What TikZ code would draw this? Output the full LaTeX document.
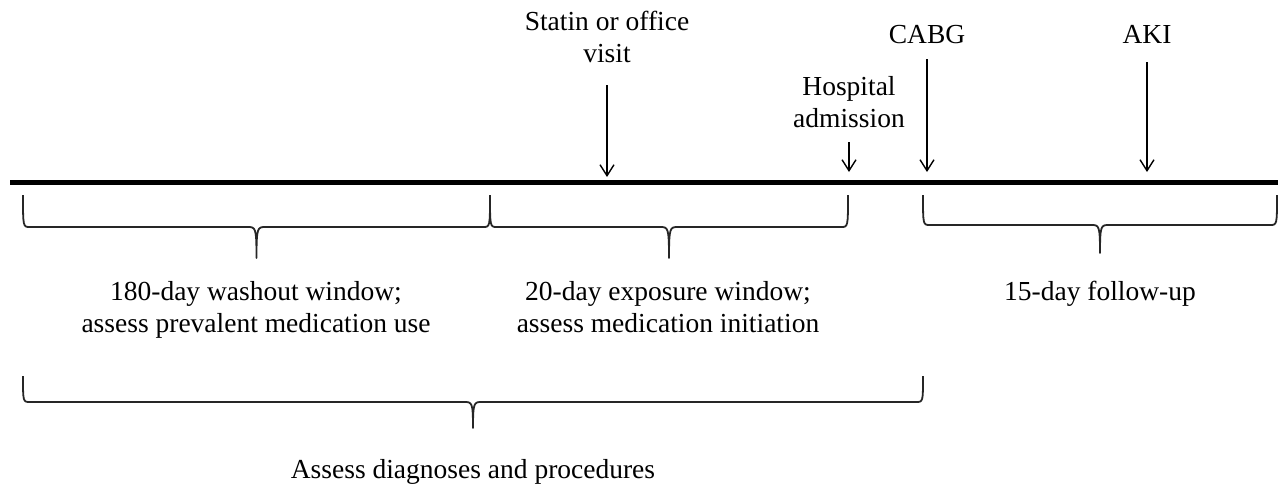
\documentclass[tikz,border=0pt]{standalone}
\usepackage{fontspec}
\setmainfont{Liberation Serif}
\usetikzlibrary{arrows.meta}
\begin{document}
\begin{tikzpicture}[x=1pt,y=-1pt,
  lbl/.style={inner sep=0pt,align=center,anchor=base,font=\fontsize{27.5}{31.5}\selectfont},
  evarrow/.style={line width=1.4pt,-{Straight Barb[length=11pt,width=14pt,line width=1.4pt]}},
  timeline/.style={line width=5pt},
  bracestyle/.style={line width=1.8pt,draw=black!85,line join=round}]
\useasboundingbox (0,0) rectangle (1287,491);
% timeline
\coordinate (tl0) at (10,182);
\coordinate (tl1) at (1278,182);
\draw[timeline] (tl0) -- (tl1);
% event labels (base = baseline of last line)
\node[lbl] (statin) at (607,62) {Statin or office\\visit};
\node[lbl] (hosp) at (849,127) {Hospital\\admission};
\node[lbl] (cabg) at (927,43) {CABG};
\node[lbl] (aki) at (1147,43) {AKI};
% arrow ends
\coordinate (sA) at (607,85);  \coordinate (sB) at (607,177);
\coordinate (hA) at (849,142); \coordinate (hB) at (849,172);
\coordinate (cA) at (927,59);  \coordinate (cB) at (927,172);
\coordinate (aA) at (1147,62); \coordinate (aB) at (1147,172);
\draw[evarrow] (sA) -- (sB);
\draw[evarrow] (hA) -- (hB);
\draw[evarrow] (cA) -- (cB);
\draw[evarrow] (aA) -- (aB);
% braces
\newcommand\tlbrace[5]{% x1, x2, top, line, tip
  \pgfmathsetmacro\bm{(#1+#2)/2}
  \draw[bracestyle] (#1,#3) .. controls (#1,#4) and (#1,#4) .. (#1+7,#4)
    -- (\bm-9,#4) .. controls (\bm-1,#4) and (\bm,#4) .. (\bm,#5)
    .. controls (\bm,#4) and (\bm+1,#4) .. (\bm+9,#4)
    -- (#2-7,#4) .. controls (#2,#4) and (#2,#4) .. (#2,#3);}
\tlbrace{23}{490}{195}{227}{258}
\tlbrace{490}{848}{195}{227}{258}
\tlbrace{923}{1277}{195}{225}{253}
\tlbrace{23}{923}{376}{402}{428}
% window labels
\node[lbl] (wash) at (256,332) {180-day washout window;\\assess prevalent medication use};
\node[lbl] (expo) at (668,332) {20-day exposure window;\\assess medication initiation};
\node[lbl] (fup) at (1100,300) {15-day follow-up};
\node[lbl] (diag) at (473,478) {Assess diagnoses and procedures};
\end{tikzpicture}
\end{document}
